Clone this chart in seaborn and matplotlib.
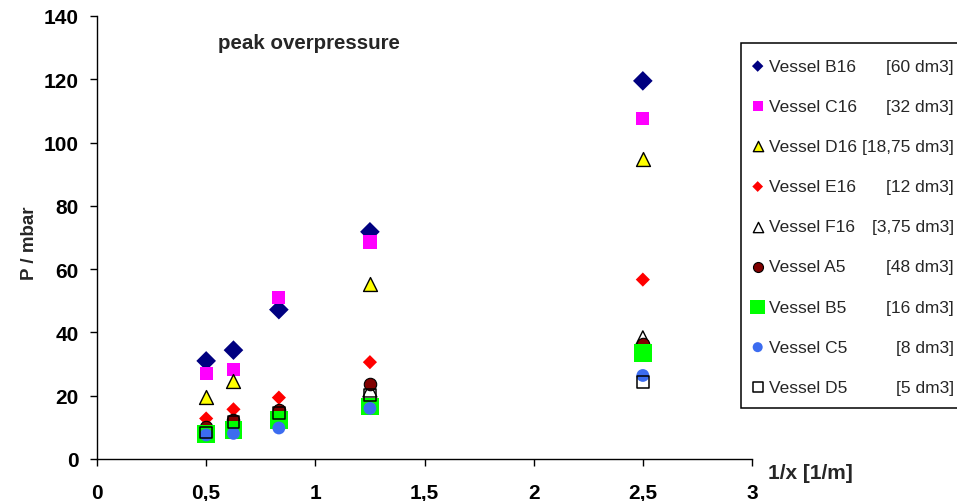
import numpy as np
import pandas as pd
import matplotlib
matplotlib.use("Agg")
import matplotlib.pyplot as plt
import seaborn as sns
from matplotlib.patches import Rectangle

# Inverse distance 1/x [1/m] and peak overpressure P [mbar] per vessel
inv_x = [0.5, 0.625, 0.833, 1.25, 2.5]
vessels = ["Vessel B16", "Vessel C16", "Vessel D16", "Vessel E16", "Vessel F16",
           "Vessel A5", "Vessel B5", "Vessel C5", "Vessel D5"]
volumes = ["[60 dm3]", "[32 dm3]", "[18,75 dm3]", "[12 dm3]", "[3,75 dm3]",
           "[48 dm3]", "[16 dm3]", "[8 dm3]", "[5 dm3]"]
p_b16 = [31.0, 34.4, 47.2, 71.8, 119.5]
p_c16 = [27.1, 28.4, 51.0, 68.6, 107.6]
p_d16 = [19.6, 24.5, np.nan, 55.2, 94.8]
p_e16 = [12.8, 15.7, 19.4, 30.6, 56.7]
p_f16 = [8.5, 10.0, np.nan, 21.8, 38.3]
p_a5 = [10.2, 12.4, 15.6, 23.6, 36.4]
p_b5 = [7.8, 9.2, 12.4, 16.6, 33.6]
p_c5 = [7.6, 8.1, 9.8, 16.0, 26.4]
p_d5 = [8.4, 11.8, 14.5, 20.3, 24.4]
x_ticks = [0, 0.5, 1, 1.5, 2, 2.5, 3]
x_ticklabels = ["0", "0,5", "1", "1,5", "2", "2,5", "3"]
y_ticks = [0, 20, 40, 60, 80, 100, 120, 140]

series = [p_b16, p_c16, p_d16, p_e16, p_f16, p_a5, p_b5, p_c5, p_d5]
frames = [pd.DataFrame({"inv_x": inv_x, "P": vals, "vessel": name})
          for name, vals in zip(vessels, series)]
df = pd.concat(frames, ignore_index=True)

# marker, face colour, edge colour, edge width, plot size, legend size
styles = {
    "Vessel B16": ("D", "#000080", "none", 0, 100, 34),
    "Vessel C16": ("s", "#FF00FF", "none", 0, 90, 52),
    "Vessel D16": ("^", "#FFFF00", "black", 1.0, 100, 55),
    "Vessel E16": ("D", "#FF0000", "none", 0, 52, 30),
    "Vessel F16": ("^", "none", "black", 1.0, 100, 55),
    "Vessel A5": ("o", "#800000", "black", 0.8, 80, 52),
    "Vessel B5": ("s", "#00FF00", "none", 0, 165, 115),
    "Vessel C5": ("o", "#3C6CF0", "none", 0, 85, 52),
    "Vessel D5": ("s", "none", "black", 1.1, 72, 42),
}

sns.set_theme(style="ticks")
plt.rcParams["font.family"] = ["Liberation Sans", "DejaVu Sans"]

fig = plt.figure(figsize=(9.57, 5.02), dpi=100)
ax = fig.add_axes([97 / 957, 42 / 502, 655 / 957, 443 / 502])

for name in vessels:
    mk, fc, ec, lw, s, _ = styles[name]
    sub = df[df["vessel"] == name]
    sns.scatterplot(data=sub, x="inv_x", y="P", marker=mk, facecolor=fc,
                    edgecolor=ec, linewidth=lw, s=s, ax=ax, label=name,
                    legend=False, zorder=3)

if ax.get_legend() is not None:
    ax.get_legend().remove()

ax.set_xlim(0, 3)
ax.set_ylim(0, 140)
ax.set_xticks(x_ticks)
ax.set_xticklabels(x_ticklabels)
ax.set_yticks(y_ticks)
for side in ("top", "right"):
    ax.spines[side].set_visible(False)
for side in ("left", "bottom"):
    ax.spines[side].set_color("black")
    ax.spines[side].set_linewidth(1.0)
ax.tick_params(axis="both", direction="out", length=5, width=1, color="black",
               labelsize=15, labelcolor="black")
ax.tick_params(axis="x", pad=12)
ax.tick_params(axis="y", pad=8)
for lab in ax.get_xticklabels() + ax.get_yticklabels():
    lab.set_fontweight("bold")

ax.set_xlabel("1/x [1/m]", fontsize=15, fontweight="bold", ha="left")
ax.xaxis.set_label_coords(1.025, -0.008)
ax.set_ylabel("P / mbar", fontsize=13.5, fontweight="bold")
ax.yaxis.set_label_coords(-0.09, 0.49)

ax.text(0.185, 0.941, "peak overpressure", transform=ax.transAxes,
        fontsize=14.8, fontweight="bold", ha="left", va="center")

# Legend box running off the right edge
fig.patches.append(Rectangle((741 / 957, 1 - 409 / 502), 0.3, 365 / 502,
                             transform=fig.transFigure, facecolor="white",
                             edgecolor="black", linewidth=1.1, zorder=1))

handles, labels = ax.get_legend_handles_labels()
leg = fig.legend(handles, labels, loc="upper left",
                 bbox_to_anchor=(749 / 957, 1 - 59.5 / 502),
                 frameon=False, fontsize=12.5, labelspacing=1.44,
                 handletextpad=0.15, handlelength=1.0, borderpad=0,
                 borderaxespad=0, scatterpoints=1)
leg.set_zorder(2)
for h, name in zip(leg.legend_handles, labels):
    h.set_sizes([styles[name][5]])
    if styles[name][1] == "none":
        h.set_facecolor("white")

fig.canvas.draw()
inv = fig.transFigure.inverted()
for txt, vol in zip(leg.get_texts(), volumes):
    bb = txt.get_window_extent()
    yc = inv.transform((0, (bb.y0 + bb.y1) / 2))[1]
    fig.text(954 / 957, yc, vol, ha="right", va="center", fontsize=12.5,
             zorder=3)

fig.savefig("out.png", dpi=100, facecolor="white")
